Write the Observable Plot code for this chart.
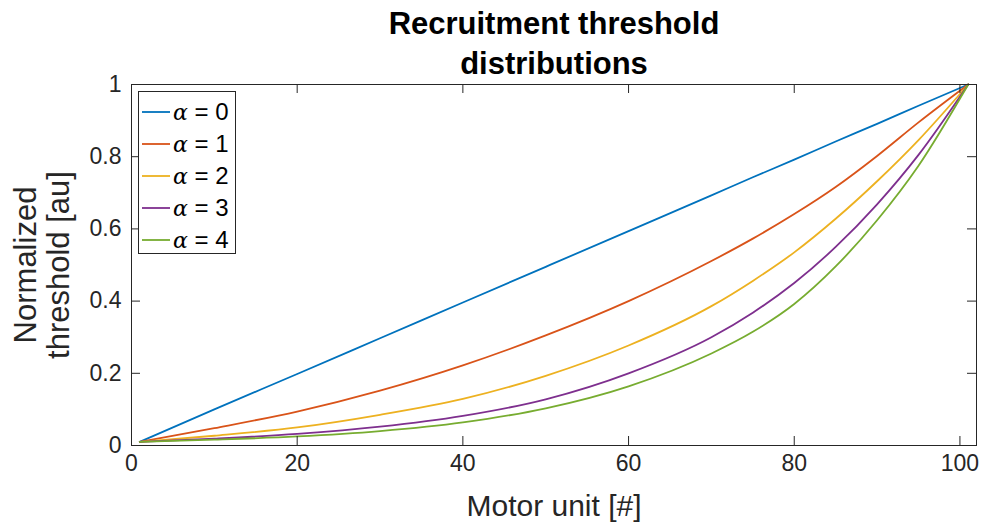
<!DOCTYPE html>
<html>
<head>
<meta charset="utf-8">
<script src="https://cdn.jsdelivr.net/npm/d3@7"></script>
<script src="https://cdn.jsdelivr.net/npm/@observablehq/plot@0.6"></script>
<style>
  html, body { margin: 0; padding: 0; background: #fff; }
  #wrap { position: relative; width: 984px; height: 526px; font-family: "Liberation Sans", Arial, Helvetica, sans-serif; }
  #legend { position: absolute; left: 138px; top: 91px; width: 98px; height: 163px; border: 1px solid #262626; background: #fff; box-sizing: border-box; padding-top: 4px; }
  .row { height: 32px; display: flex; align-items: center; }
  .row svg { margin-left: 3px; margin-right: 3px; }
  .lab { font-size: 24px; color: #000; white-space: nowrap; }
  .lab i { font-family: "DejaVu Serif", serif; font-style: italic; font-size: 22px; }
</style>
</head>
<body>
<div id="wrap"></div>
<script>
// Motor unit index where values were read
const units = [1, 10, 20, 30, 40, 50, 60, 70, 75, 80, 85, 90, 95, 101];
// Normalized threshold for each alpha
const alpha0 = [0.01, 0.10, 0.198, 0.297, 0.396, 0.495, 0.594, 0.693, 0.743, 0.792, 0.842, 0.891, 0.941, 1.0];
const alpha1 = [0.01, 0.048, 0.094, 0.152, 0.222, 0.305, 0.400, 0.511, 0.573, 0.641, 0.716, 0.802, 0.895, 1.0];
const alpha2 = [0.01, 0.027, 0.050, 0.085, 0.129, 0.193, 0.277, 0.386, 0.456, 0.535, 0.628, 0.732, 0.846, 1.0];
const alpha3 = [0.01, 0.019, 0.032, 0.052, 0.082, 0.128, 0.200, 0.300, 0.368, 0.450, 0.550, 0.668, 0.805, 1.0];
const alpha4 = [0.01, 0.016, 0.025, 0.040, 0.064, 0.103, 0.164, 0.255, 0.315, 0.392, 0.496, 0.624, 0.775, 1.0];
const seriesNames = ["α = 0", "α = 1", "α = 2", "α = 3", "α = 4"];
const seriesColors = ["#0072BD", "#D95319", "#EDB120", "#7E2F8E", "#77AC30"];
const xTicks = [0, 20, 40, 60, 80, 100];
const yTicks = [0, 0.2, 0.4, 0.6, 0.8, 1];
const titleText = "Recruitment threshold\ndistributions";
const xLabel = "Motor unit [#]";
const yLabel = "Normalized\nthreshold [au]";

const allSeries = [alpha0, alpha1, alpha2, alpha3, alpha4];
const rows = [];
allSeries.forEach((vals, i) => vals.forEach((v, j) => rows.push({unit: units[j], value: v, series: seriesNames[i]})));

const xMax = 102;
const axisColor = "#262626";
const tx = 9 / (845 / xMax); // tick length in x data units (~9px)
const ty = 9 / 361;          // tick length in y data units (~9px)

const chart = Plot.plot({
  width: 984,
  height: 526,
  marginLeft: 131,
  marginRight: 8,
  marginTop: 84,
  marginBottom: 81,
  style: { fontFamily: "'Liberation Sans', Arial, Helvetica, sans-serif", color: axisColor, background: "#fff" },
  x: { domain: [0, xMax] },
  y: { domain: [0, 1] },
  color: { domain: seriesNames, range: seriesColors },
  marks: [
    Plot.line(rows, { x: "unit", y: "value", z: "series", stroke: "series", curve: "monotone-x", strokeWidth: 1.8 }),
    Plot.frame({ stroke: axisColor, strokeWidth: 1 }),
    Plot.ruleX(xTicks, { x: d => d, y1: 0, y2: ty, stroke: axisColor }),
    Plot.ruleX(xTicks, { x: d => d, y1: 1, y2: 1 - ty, stroke: axisColor }),
    Plot.ruleY(yTicks, { y: d => d, x1: 0, x2: tx, stroke: axisColor }),
    Plot.ruleY(yTicks, { y: d => d, x1: xMax, x2: xMax - tx, stroke: axisColor }),
    Plot.axisX({ ticks: xTicks, tickSize: 0, tickPadding: 9, fontSize: 23, label: null, fill: axisColor }),
    Plot.axisY({ ticks: yTicks, tickSize: 0, tickPadding: 10, fontSize: 23, label: null, fill: axisColor, tickFormat: d => String(d) }),
    Plot.text([xLabel], { frameAnchor: "bottom", lineAnchor: "middle", textAnchor: "middle", dy: 61, fontSize: 30, fill: axisColor }),
    Plot.text([yLabel], { frameAnchor: "left", lineAnchor: "middle", textAnchor: "middle", dx: -90, rotate: -90, fontSize: 31, lineHeight: 1.07, fill: axisColor }),
    Plot.text([titleText], { frameAnchor: "top", lineAnchor: "middle", textAnchor: "middle", dy: -43, fontSize: 31, fontWeight: "bold", lineHeight: 1.26, fill: "#000" })
  ]
});

const wrap = document.getElementById("wrap");
wrap.appendChild(chart);

// Legend
const legend = document.createElement("div");
legend.id = "legend";
seriesNames.forEach((name, i) => {
  const row = document.createElement("div");
  row.className = "row";
  row.innerHTML = `<svg width="28" height="4"><line x1="0" y1="2" x2="28" y2="2" stroke="${seriesColors[i]}" stroke-width="1.8"/></svg>` +
    `<span class="lab"><i>α</i> = ${name.split("= ")[1]}</span>`;
  legend.appendChild(row);
});
wrap.appendChild(legend);
</script>
</body>
</html>
